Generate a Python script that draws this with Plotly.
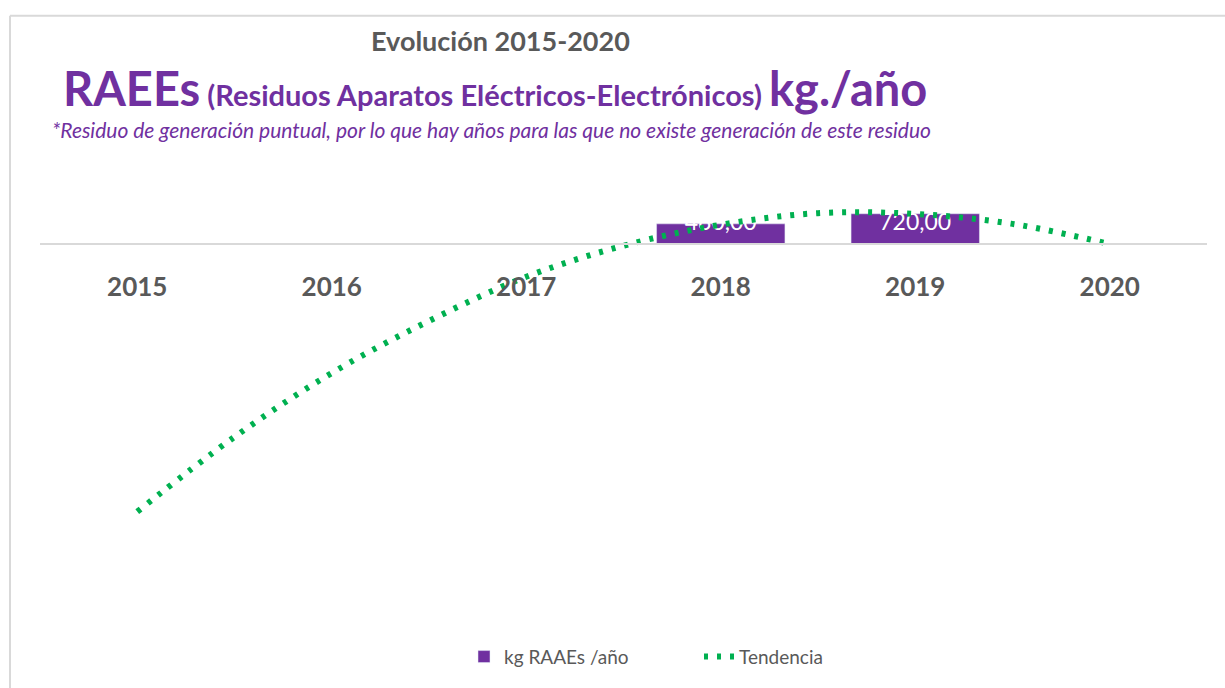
import plotly.graph_objects as go

# datos
years = [2015, 2016, 2017, 2018, 2019, 2020]
kg_raee = [0, 0, 0, 480, 720, 0]
kg_labels = ["0,00", "0,00", "0,00", "480,00", "720,00", "0,00"]

# linea de tendencia (leida punto a punto)
trend_x = [2015, 2015.5, 2016, 2016.5, 2017, 2017.5, 2018, 2018.5, 2019, 2019.5, 2020]
trend_y = [-6370, -4590, -3070, -1830, -780, -40, 460, 735, 716, 480, 0]

PURPLE = "#7030a0"
GREEN = "#00b050"
GRAY = "#595959"
FONT = "Lato"

W, H = 1225, 688
ML, MR, MT, MB = 40, 18, 160, 89
ymin, ymax = -8400, 2000


def px(xp):
    return (xp - ML) / (W - ML - MR)


def py(yp):
    return (H - MB - yp) / (H - MT - MB)


fig = go.Figure()

fig.add_trace(go.Bar(
    x=years, y=kg_raee, name="kg RAAEs /año",
    marker=dict(color=PURPLE), width=0.66,
))

# etiquetas blancas en la base de las barras
fig.add_trace(go.Scatter(
    x=years, y=[0] * len(years), mode="markers+text",
    text=kg_labels, textposition="top center",
    textfont=dict(family=FONT, size=23, color="white"),
    marker=dict(size=12, opacity=0),
    showlegend=False, hoverinfo="skip",
))

fig.add_trace(go.Scatter(
    x=trend_x, y=trend_y, mode="lines", name="Tendencia",
    line=dict(color=GREEN, width=6, dash="4px,9px", shape="spline"),
))

fig.update_layout(
    width=W, height=H,
    margin=dict(l=ML, r=MR, t=MT, b=MB),
    paper_bgcolor="white", plot_bgcolor="white",
    font=dict(family=FONT, color=GRAY),
    showlegend=True,
    legend=dict(orientation="h", x=px(464), xanchor="left",
                y=py(659), yanchor="middle",
                font=dict(size=19, color=GRAY),
                entrywidth=190, entrywidthmode="pixels"),
)

fig.update_xaxes(
    range=[2014.5, 2020.5],
    tickvals=years, ticktext=["<b>%d</b>" % y for y in years],
    tickfont=dict(family=FONT, size=26, color=GRAY),
    anchor="free", position=-ymin / (ymax - ymin),
    showline=True, linecolor="#d9d9d9", linewidth=2,
    showgrid=False, zeroline=False, ticks="", ticklabelstandoff=20,
)
fig.update_yaxes(range=[ymin, ymax], visible=False, showgrid=False, zeroline=False)

# titulos
fig.add_annotation(
    xref="paper", yref="paper", x=px(500), y=py(40),
    xanchor="center", yanchor="middle", showarrow=False,
    text="<b>Evolución 2015-2020</b>",
    font=dict(family=FONT, size=27, color=GRAY),
)
fig.add_annotation(
    xref="paper", yref="paper", x=px(61), y=py(88),
    xanchor="left", yanchor="middle", showarrow=False,
    text="<b><span style='font-size:47px'>RAEEs</span> "
         "<span style='font-size:29px'>(Residuos Aparatos Eléctricos-Electrónicos)</span> "
         "<span style='font-size:47px'>kg./año</span></b>",
    font=dict(family=FONT, size=29, color=PURPLE),
)
fig.add_annotation(
    xref="paper", yref="paper", x=px(50), y=py(129),
    xanchor="left", yanchor="middle", showarrow=False,
    text="<i>*Residuo de generación puntual, por lo que hay años para las que no existe generación de este residuo</i>",
    font=dict(family=FONT, size=21, color=PURPLE),
)

# borde del area del grafico
fig.add_shape(type="line", xref="paper", yref="paper",
              x0=px(10), x1=px(1230), y0=py(15), y1=py(15),
              line=dict(color="#d9d9d9", width=2))
fig.add_shape(type="line", xref="paper", yref="paper",
              x0=px(10), x1=px(10), y0=py(15), y1=py(700),
              line=dict(color="#d9d9d9", width=2))

fig.write_html("out.html", config={"displayModeBar": False},
               post_script="document.body.style.margin='0';")
